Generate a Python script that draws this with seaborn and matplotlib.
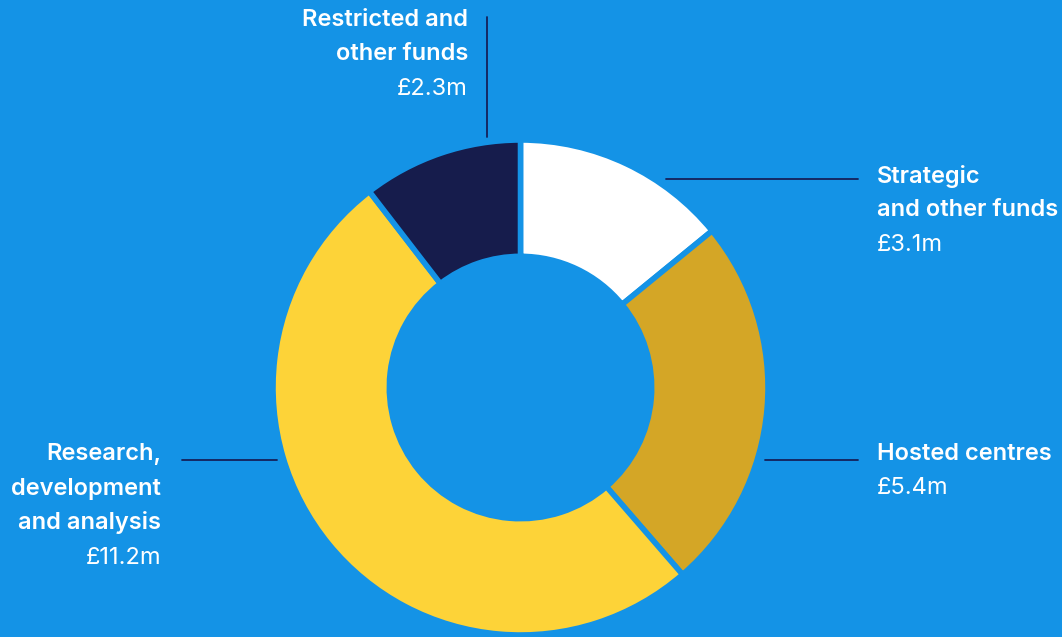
import seaborn as sns
import matplotlib.pyplot as plt

# funding split, clockwise from 12 o'clock
labels = ['Strategic\nand other funds', 'Hosted centres', 'Research,\ndevelopment\nand analysis', 'Restricted and\nother funds']
values = [3.1, 5.4, 11.2, 2.3]
amounts = ['£3.1m', '£5.4m', '£11.2m', '£2.3m']
colours = ['#FFFFFF', '#D4A626', '#FDD338', '#161C4C']

bg = '#1493E6'
line_col = '#15205A'

sns.set_style('white')
plt.rcParams['font.family'] = ['Inter', 'DejaVu Sans']

fig = plt.figure(figsize=(10.62, 6.37), dpi=100, facecolor=bg)
ax = fig.add_axes([0, 0, 1, 1])
ax.set_facecolor(bg)

cx, cy, r = 520.5, 637 - 387.5, 247.5
ax.pie(values, colors=colours, startangle=90, counterclock=False,
       center=(cx, cy), radius=r,
       wedgeprops=dict(width=r * 0.47, edgecolor=bg, linewidth=4))
ax.set_xlim(0, 1062)
ax.set_ylim(0, 637)
ax.set_aspect('equal')
ax.axis('off')

Y = lambda y: 637 - y

# leader lines
ax.plot([666, 858], [Y(179), Y(179)], color=line_col, lw=1.3)
ax.plot([765, 858], [Y(460), Y(460)], color=line_col, lw=1.3)
ax.plot([182, 277], [Y(460), Y(460)], color=line_col, lw=1.3)
ax.plot([487, 487], [Y(17), Y(137)], color=line_col, lw=1.3)

def block(x, y0, text, amount, ha):
    lines = text.split('\n')
    step = 34.5
    for i, ln in enumerate(lines):
        ax.text(x, Y(y0 + i * step), ln, ha=ha, va='center', fontsize=17,
                fontweight='semibold', color='white')
    ax.text(x, Y(y0 + len(lines) * step), amount, ha=ha, va='center',
            fontsize=17, color='white')

block(877, 176, labels[0], amounts[0], 'left')
block(877, 454, labels[1], amounts[1], 'left')
block(161, 454, labels[2], amounts[2], 'right')
block(468, 20, labels[3], amounts[3], 'right')

fig.savefig('out.png', dpi=100, facecolor=bg)
